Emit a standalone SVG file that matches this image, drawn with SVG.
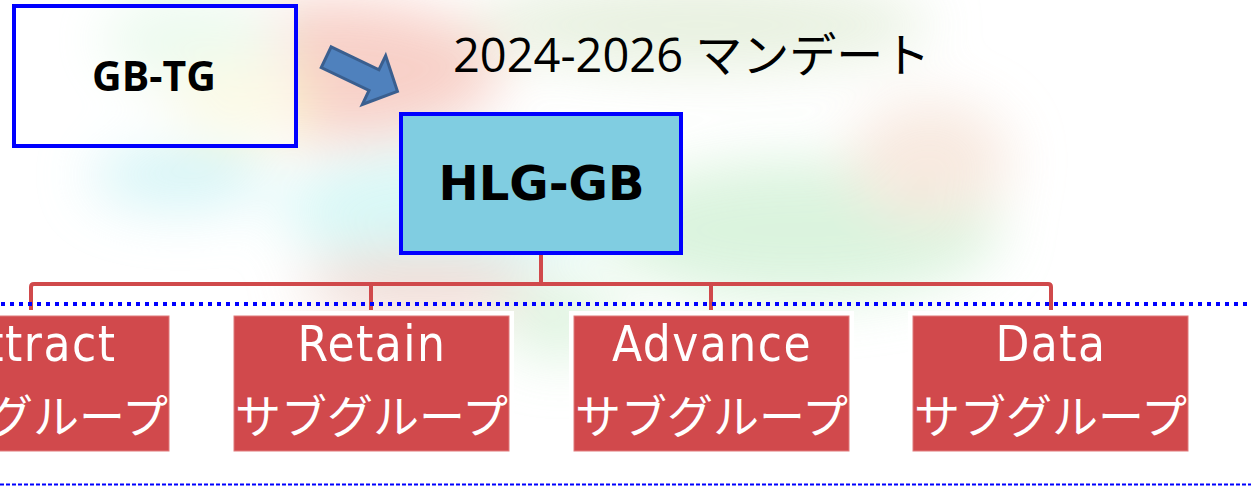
<svg xmlns="http://www.w3.org/2000/svg" width="1251" height="486" viewBox="0 0 1251 486">
<defs>
<filter id="blur" x="-50%" y="-50%" width="200%" height="200%"><feGaussianBlur stdDeviation="28"/></filter>
<style>
.bluebox{stroke:#0000FF;stroke-width:4;}
.conn{fill:none;stroke:#D0494B;stroke-width:4;stroke-linejoin:round;}
.sg{fill:#D1494C;stroke:#E07A7A;stroke-width:1;}
.sgbg{fill:#FFFFFF;}
.sgt{fill:#FFFFFF;font-family:"DejaVu Sans Condensed","DejaVu Sans","Noto Sans CJK JP",sans-serif;font-stretch:condensed;font-size:49px;letter-spacing:1.5px;text-anchor:middle;}
.sgj{fill:#FFFFFF;font-family:"Noto Sans CJK JP",sans-serif;font-size:46px;text-anchor:middle;}
</style>
</defs>
<rect width="1251" height="486" fill="#FFFFFF"/>
<g id="background" filter="url(#blur)" opacity="0.8">
<ellipse cx="330" cy="70" rx="170" ry="70" fill="#F6C4BA"/>
<ellipse cx="190" cy="40" rx="90" ry="45" fill="#CFF3D6"/>
<ellipse cx="240" cy="100" rx="70" ry="40" fill="#F8F2C0"/>
<ellipse cx="700" cy="25" rx="230" ry="45" fill="#E2EDD8"/>
<ellipse cx="180" cy="175" rx="90" ry="35" fill="#CCF3F5"/>
<ellipse cx="440" cy="210" rx="160" ry="60" fill="#CFF6F4"/>
<ellipse cx="800" cy="230" rx="200" ry="70" fill="#D2F1D6"/>
<ellipse cx="930" cy="160" rx="80" ry="60" fill="#F6E4D8"/>
<ellipse cx="420" cy="285" rx="120" ry="30" fill="#EFCFC6"/>
<ellipse cx="560" cy="320" rx="60" ry="40" fill="#D8F2DA"/>
</g>
<g id="title">
<text x="453" y="72" font-family="'Open Sans','Noto Sans CJK JP',sans-serif" font-size="47" fill="#000000">2024-2026 マンデート</text>
</g>
<g id="gb-tg">
<rect x="14" y="6" width="282" height="140" fill="#FFFFFF" fill-opacity="0.5" class="bluebox"/>
<text x="154" y="91" font-family="'Open Sans',sans-serif" font-weight="bold" font-size="41" text-anchor="middle" fill="#000000">GB-TG</text>
</g>
<g id="arrow">
<polygon transform="translate(326.2,57.2) rotate(25.6)" points="0,-11.5 53,-11.5 53,-27 79,0 53,27 53,11.5 0,11.5" fill="#4F81BD" stroke="#3A5F8F" stroke-width="3" stroke-linejoin="miter"/>
</g>
<g id="hlg-gb">
<rect x="401" y="114" width="280" height="139" fill="#80CDE1" class="bluebox"/>
<text x="541.5" y="200" font-family="'DejaVu Sans',sans-serif" font-weight="bold" font-size="48" text-anchor="middle" fill="#000000">HLG-GB</text>
</g>
<g id="connectors">
<path class="conn" d="M541,255 V284"/>
<path class="conn" d="M31,310 V287 Q31,284 34,284 H1048 Q1051,284 1051,287 V310"/>
<path class="conn" d="M371,284 V310"/>
<path class="conn" d="M711,284 V310"/>
</g>
<g id="lines">
<line x1="0" y1="304" x2="1251" y2="304" stroke="#0000FF" stroke-width="4" stroke-dasharray="4 5" stroke-dashoffset="-1"/>
<line x1="0" y1="484.5" x2="1251" y2="484.5" stroke="#0000FF" stroke-width="2" stroke-dasharray="4 2"/>
</g>
<g id="attract">
<rect class="sgbg" x="-111" y="311" width="285" height="145"/>
<rect class="sg" x="-106" y="316" width="275" height="135"/>
<text class="sgt" x="36" y="361">Attract</text>
<text class="sgj" x="31.5" y="433">サブグループ</text>
</g>
<g id="retain">
<rect class="sgbg" x="229" y="311" width="285" height="145"/>
<rect class="sg" x="234" y="316" width="275" height="135"/>
<text class="sgt" x="372" y="361">Retain</text>
<text class="sgj" x="371.5" y="433">サブグループ</text>
</g>
<g id="advance">
<rect class="sgbg" x="569" y="311" width="285" height="145"/>
<rect class="sg" x="574" y="316" width="275" height="135"/>
<text class="sgt" x="712" y="361">Advance</text>
<text class="sgj" x="711.5" y="433">サブグループ</text>
</g>
<g id="data">
<rect class="sgbg" x="908" y="311" width="285" height="145"/>
<rect class="sg" x="913" y="316" width="275" height="135"/>
<text class="sgt" x="1051" y="361">Data</text>
<text class="sgj" x="1050.5" y="433">サブグループ</text>
</g>
</svg>
